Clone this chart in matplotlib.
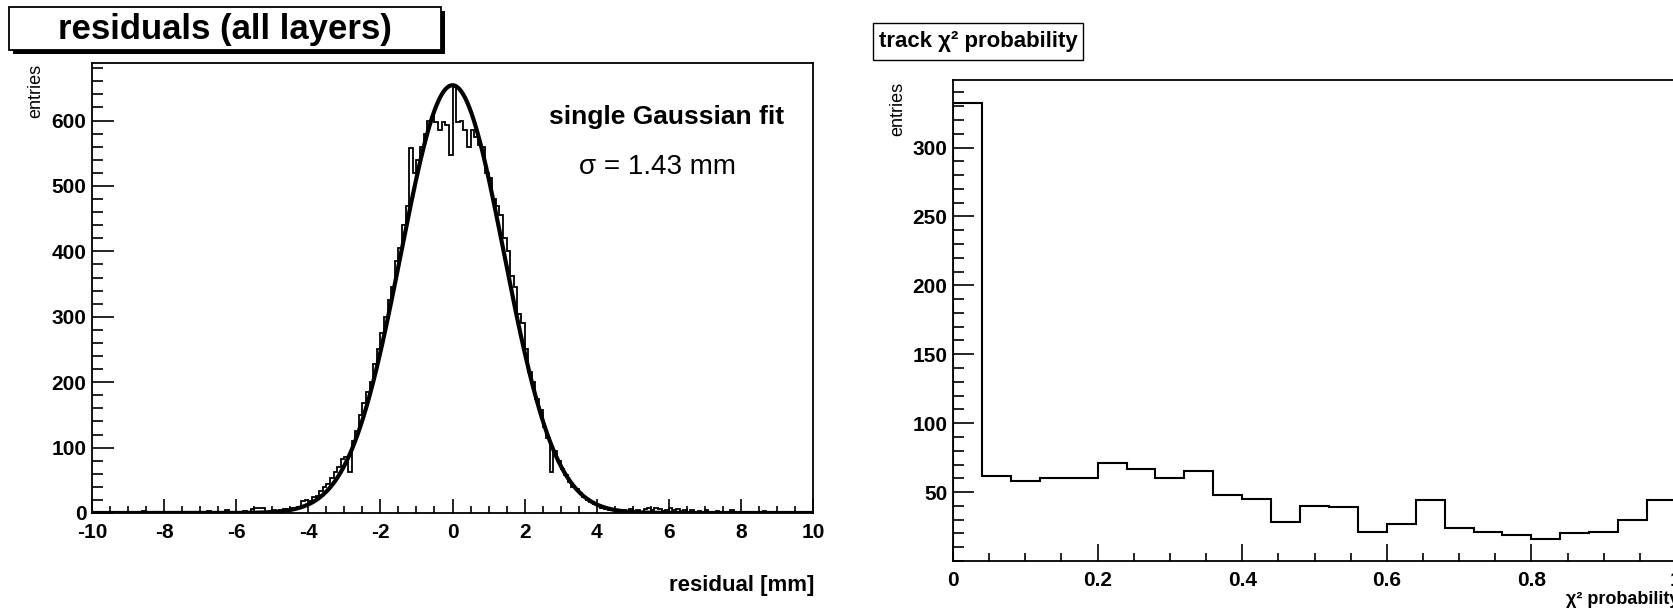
import numpy as np
import matplotlib.pyplot as plt
from matplotlib.patches import Rectangle
from matplotlib.ticker import MultipleLocator

plt.rcParams['font.family'] = ['Liberation Sans', 'DejaVu Sans']
plt.rcParams['axes.unicode_minus'] = False

W, H = 1673, 613

# residuals of all layers, 0.1 mm bins from -10 to 10 mm
res_edges = np.linspace(-10, 10, 201)
res_counts = [
    0, 0, 1, 0, 0, 0, 0, 2, 0, 0, 0, 1, 0, 0, 3, 0, 0, 0, 2, 0,              # -10 .. -8
    0, 0, 1, 0, 0, 2, 0, 0, 0, 1, 0, 0, 3, 0, 2, 0, 0, 4, 0, 2,              # -8 .. -6
    2, 0, 3, 1, 6, 8, 7, 8, 2, 3, 4, 3, 5, 6, 4, 7, 8, 9, 18, 20,            # -6 .. -4
    19, 24, 26, 33, 40, 45, 54, 62, 70, 82, 85, 62, 110, 125, 150, 168, 185, 200, 228, 250,  # -4 .. -2
    275, 300, 325, 345, 385, 405, 440, 470, 558, 520, 540, 560, 580, 600, 606, 598, 585, 598, 593, 548,  # -2 .. 0
    652, 598, 600, 585, 560, 585, 575, 562, 560, 520, 512, 480, 470, 455, 420, 400, 362, 345, 305, 290,  # 0 .. 2
    250, 215, 200, 175, 158, 132, 115, 62, 95, 80, 68, 58, 48, 40, 36, 30, 24, 20, 17, 14,  # 2 .. 4
    10, 8, 6, 4, 5, 2, 3, 4, 2, 6, 3, 5, 2, 6, 7, 4, 7, 6, 3, 5,              # 4 .. 6
    7, 4, 6, 3, 5, 2, 4, 1, 3, 2, 4, 0, 2, 3, 0, 2, 0, 4, 0, 1,              # 6 .. 8
    0, 2, 0, 0, 1, 0, 3, 0, 0, 1, 0, 0, 2, 0, 0, 0, 1, 0, 0, 0,              # 8 .. 10
]

# single Gaussian fit parameters
fit_amp = 654
fit_mean = 0.0
fit_sigma = 1.43

# track chi2 probability, 25 bins from 0 to 1
prob_edges = np.linspace(0, 1, 26)
prob_counts = [332, 62, 58, 60, 60, 71, 67, 60, 65, 48, 45, 28, 40,
               39, 21, 27, 44, 24, 21, 19, 16, 20, 21, 30, 44]

fig = plt.figure(figsize=(W / 100, H / 100), dpi=100)


def px_axes(x0, y0, x1, y1):
    return fig.add_axes([x0 / W, 1 - y1 / H, (x1 - x0) / W, (y1 - y0) / H])


def px_rect(x0, y0, x1, y1, **kw):
    r = Rectangle((x0 / W, 1 - y1 / H), (x1 - x0) / W, (y1 - y0) / H,
                  transform=fig.transFigure, **kw)
    fig.add_artist(r)


def root_style(ax, xmaj, xmin, ymaj, ymin, xlen, ylen):
    for s in ax.spines.values():
        s.set_linewidth(1.3)
    ax.xaxis.set_major_locator(MultipleLocator(xmaj))
    ax.xaxis.set_minor_locator(MultipleLocator(xmin))
    ax.yaxis.set_major_locator(MultipleLocator(ymaj))
    ax.yaxis.set_minor_locator(MultipleLocator(ymin))
    ax.tick_params(which='both', direction='in', top=False, right=False,
                   width=1.2, labelsize=15)
    ax.tick_params(axis='x', which='major', length=xlen[0], pad=7)
    ax.tick_params(axis='x', which='minor', length=xlen[1])
    ax.tick_params(axis='y', which='major', length=ylen[0], pad=4)
    ax.tick_params(axis='y', which='minor', length=ylen[1])
    for lab in ax.get_xticklabels() + ax.get_yticklabels():
        lab.set_fontweight('bold')


# left: residual distribution with Gaussian fit
ax1 = px_axes(92, 63, 813, 513)
ax1.stairs(res_counts, res_edges, color='black', lw=1.3, baseline=None)
xs = np.linspace(-10, 10, 1000)
ax1.plot(xs, fit_amp * np.exp(-0.5 * ((xs - fit_mean) / fit_sigma) ** 2),
         color='black', lw=3)
ax1.set_xlim(-10, 10)
ax1.set_ylim(0, 688)
root_style(ax1, 2, 0.5, 100, 20, (10, 5), (16, 8))
ax1.text(0.96, 0.88, 'single Gaussian fit', transform=ax1.transAxes,
         ha='right', va='center', fontsize=19, fontweight='bold')
ax1.text(0.785, 0.77, '\u03c3 = 1.43 mm', transform=ax1.transAxes,
         ha='center', va='center', fontsize=20)

# right: chi2 probability of the tracks
ax2 = px_axes(953, 80, 1676, 561)
ax2.stairs(prob_counts, prob_edges, color='black', lw=1.5, baseline=0)
ax2.set_xlim(0, 1)
ax2.set_ylim(0, 349)
root_style(ax2, 0.2, 0.05, 50, 10, (12, 6), (15, 8))
ax2.set_xticks([0, 0.2, 0.4, 0.6, 0.8, 1.0])
ax2.set_xticklabels(['0', '0.2', '0.4', '0.6', '0.8', '1'], fontweight='bold')
ax2.set_yticks([50, 100, 150, 200, 250, 300])
ax2.set_yticklabels(['50', '100', '150', '200', '250', '300'], fontweight='bold')

# axis titles
fig.text(36 / W, 1 - 64 / H, 'entries', rotation=90, ha='center', va='top', fontsize=13)
fig.text(898 / W, 1 - 82 / H, 'entries', rotation=90, ha='center', va='top', fontsize=13)
fig.text(814 / W, 1 - 586 / H, 'residual [mm]', ha='right', va='center',
         fontsize=16, fontweight='bold')
fig.text(1679 / W, 1 - 600 / H, '\u03c7\u00b2 probability', ha='right', va='center',
         fontsize=13, fontweight='bold')

# title boxes
px_rect(13, 11, 445, 54, facecolor='black', edgecolor='none')
px_rect(9, 7, 441, 50, facecolor='white', edgecolor='black', lw=1.3)
fig.text(225 / W, 1 - 29 / H, 'residuals (all layers)', ha='center', va='center',
         fontsize=25, fontweight='bold')

px_rect(873, 23, 1083, 60, facecolor='white', edgecolor='black', lw=1.0)
fig.text(978 / W, 1 - 41 / H, 'track \u03c7\u00b2 probability', ha='center', va='center',
         fontsize=16, fontweight='bold')

fig.savefig('out.png', dpi=100, facecolor='white')
